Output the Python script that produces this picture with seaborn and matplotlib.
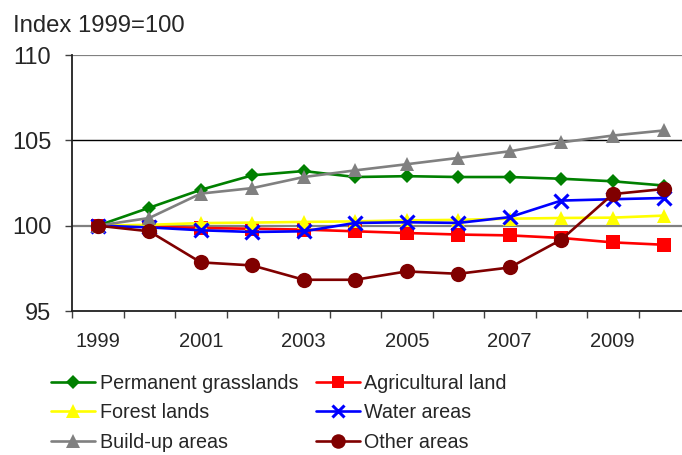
import matplotlib
matplotlib.use("Agg")
import matplotlib.pyplot as plt
from matplotlib.lines import Line2D
from matplotlib import font_manager
import numpy as np
import pandas as pd
import seaborn as sns

# Land-use indices, 1999 = 100
years = [1999, 2000, 2001, 2002, 2003, 2004, 2005, 2006, 2007, 2008, 2009, 2010]
permanent_grasslands = [100, 101.05, 102.1, 102.95, 103.2, 102.85, 102.9, 102.85, 102.85, 102.75, 102.6, 102.35]
agricultural_land = [100, 99.95, 99.86, 99.82, 99.77, 99.67, 99.57, 99.48, 99.43, 99.28, 99.02, 98.88]
forest_lands = [100, 100.05, 100.15, 100.18, 100.22, 100.25, 100.31, 100.34, 100.41, 100.45, 100.47, 100.59]
water_areas = [100, 99.9, 99.73, 99.63, 99.67, 100.16, 100.2, 100.16, 100.5, 101.47, 101.55, 101.62]
buildup_areas = [100, 100.45, 101.88, 102.2, 102.85, 103.24, 103.6, 103.97, 104.36, 104.88, 105.28, 105.58]
other_areas = [100, 99.67, 97.85, 97.67, 96.83, 96.83, 97.32, 97.18, 97.55, 99.18, 101.85, 102.15]

series_names = ["Permanent grasslands", "Agricultural land", "Forest lands",
                "Water areas", "Build-up areas", "Other areas"]
series_values = [permanent_grasslands, agricultural_land, forest_lands,
                 water_areas, buildup_areas, other_areas]

styles = {
    "Permanent grasslands": dict(color="#008000", marker="D", ms=7.3, mew=0),
    "Agricultural land": dict(color="#FF0000", marker="s", ms=9.5, mew=0),
    "Forest lands": dict(color="#FFFF00", marker="^", ms=10, mew=0),
    "Water areas": dict(color="#0000FF", marker="x", ms=9.5, mew=2.2),
    "Build-up areas": dict(color="#808080", marker="^", ms=10, mew=0),
    "Other areas": dict(color="#800000", marker="o", ms=11, mew=0),
}

df = pd.DataFrame({
    "pos": np.tile(np.arange(len(years)), len(series_names)),
    "value": np.concatenate(series_values),
    "series": np.repeat(series_names, len(years)),
})

sns.set_style("white")
plt.rcParams["font.family"] = ["Liberation Sans", "DejaVu Sans"]

installed = {f.name for f in font_manager.fontManager.ttflist}
if "Liberation Sans Narrow" in installed:
    legend_font = dict(family="Liberation Sans Narrow", size=16.8)
else:
    legend_font = dict(family="Liberation Sans", size=14.2)

fig = plt.figure(figsize=(6.82, 4.55), dpi=100)
ax = fig.add_axes([72 / 682, 1 - 311 / 455, (690 - 72) / 682, 256 / 455])

# horizontal reference lines
ax.axhline(110, color="#808080", lw=1.6, zorder=1)
ax.axhline(105, color="black", lw=1.0, zorder=1)
ax.axhline(100, color="#808080", lw=1.6, zorder=1)

handles = {}
for i, name in enumerate(series_names):
    st = styles[name]
    sub = df[df["series"] == name]
    sns.lineplot(data=sub, x="pos", y="value", ax=ax, color=st["color"],
                 lw=1.9, marker=st["marker"], markersize=st["ms"],
                 markeredgewidth=st["mew"], markeredgecolor=st["color"],
                 markerfacecolor=st["color"], legend=False, zorder=3 + i)
    handles[name] = Line2D([], [], color=st["color"], lw=1.9, marker=st["marker"],
                           markersize=st["ms"] * 0.95, markeredgewidth=st["mew"],
                           markeredgecolor=st["color"], markerfacecolor=st["color"])

ax.set_xlim(-0.5, len(years) - 0.5)
ax.set_ylim(95, 110)
ax.set_yticks([95, 100, 105, 110])
ax.set_yticklabels(["95", "100", "105", "110"], fontsize=17)
ax.set_xticks(np.arange(0, len(years), 2))
ax.set_xticklabels([str(y) for y in years[::2]], fontsize=14.5)
ax.set_xticks(np.arange(-0.5, len(years), 1), minor=True)
ax.tick_params(axis="x", which="major", length=0, pad=15)
ax.tick_params(axis="x", which="minor", length=5, width=1, color="#404040", direction="out", bottom=True)
ax.tick_params(axis="y", which="major", length=5, width=1, color="#404040", direction="out", left=True, pad=10)
ax.set_xlabel("")
ax.set_ylabel("")
for s in ["top", "right"]:
    ax.spines[s].set_visible(False)
for s in ["left", "bottom"]:
    ax.spines[s].set_color("#202020")
    ax.spines[s].set_linewidth(1.3)

fig.text(13 / 682, 1 - 31.7 / 455, "Index 1999=100", fontsize=17.2, va="baseline", ha="left")

order = ["Permanent grasslands", "Forest lands", "Build-up areas",
         "Agricultural land", "Water areas", "Other areas"]
em = legend_font["size"] * 100 / 72
fig.legend([handles[n] for n in order], order, ncol=2, loc="upper left",
           bbox_to_anchor=(51 / 682, 1 - 374 / 455), frameon=False, prop=legend_font,
           handlelength=44 / em, handletextpad=5 / em, columnspacing=17 / em,
           labelspacing=0.52, borderaxespad=0, borderpad=0)

fig.savefig("out.png", dpi=100)
